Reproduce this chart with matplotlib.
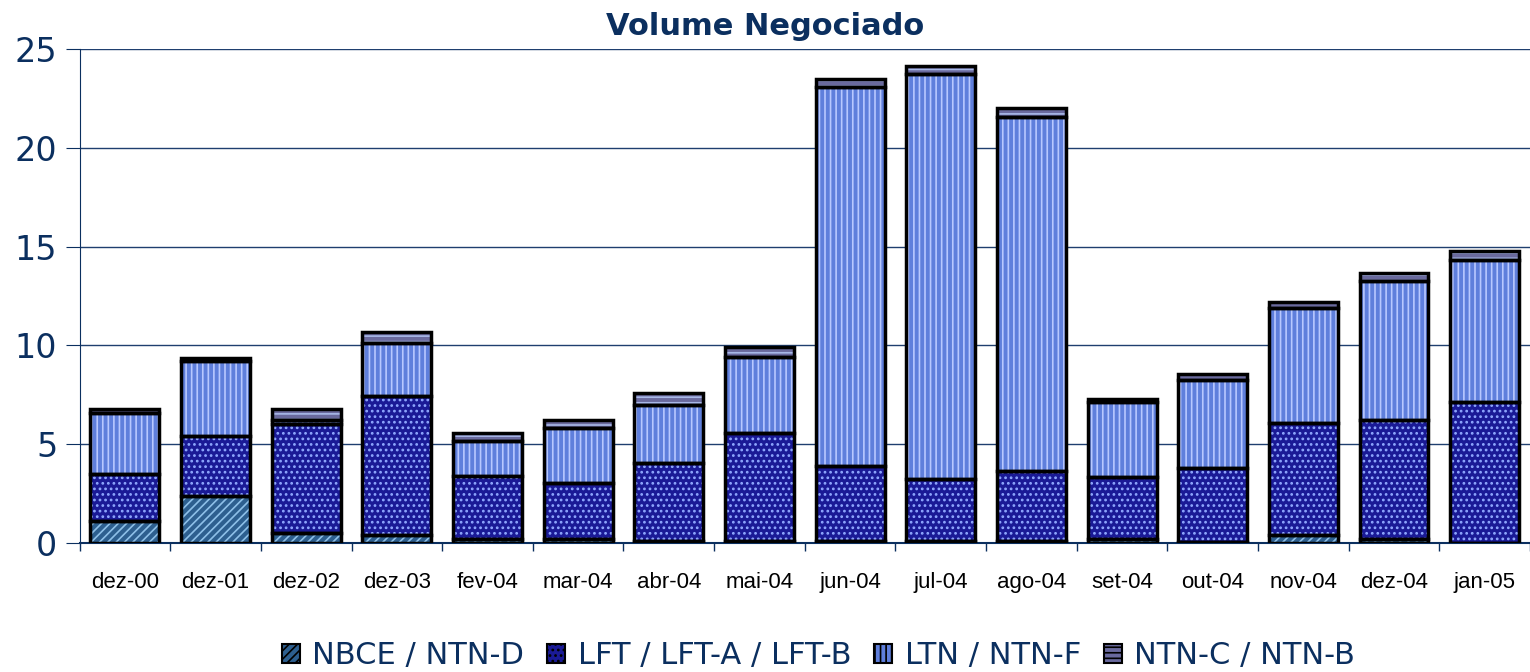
import numpy as np
import matplotlib
matplotlib.use('Agg')
from matplotlib import pyplot as plt

months = ['dez-00', 'dez-01', 'dez-02', 'dez-03', 'fev-04', 'mar-04', 'abr-04', 'mai-04',
          'jun-04', 'jul-04', 'ago-04', 'set-04', 'out-04', 'nov-04', 'dez-04', 'jan-05']
nbce = [1.1, 2.4, 0.5, 0.4, 0.2, 0.2, 0.1, 0.1, 0.1, 0.1, 0.1, 0.2, 0.05, 0.4, 0.2, 0.0]
lft = [2.4, 3.0, 5.5, 7.05, 3.2, 2.85, 3.95, 5.45, 3.8, 3.15, 3.55, 3.15, 3.75, 5.65, 6.0, 7.15]
ltn = [3.1, 3.8, 0.2, 2.65, 1.75, 2.75, 2.95, 3.85, 19.2, 20.5, 17.9, 3.8, 4.45, 5.85, 7.05, 7.15]
ntnc = [0.2, 0.15, 0.6, 0.6, 0.4, 0.4, 0.6, 0.5, 0.4, 0.4, 0.45, 0.15, 0.3, 0.3, 0.4, 0.5]

series_names = ['NBCE / NTN-D', 'LFT / LFT-A / LFT-B', 'LTN / NTN-F', 'NTN-C / NTN-B']
fills = ['#2d5f8f', '#1a1a96', '#5f7fdc', '#6a6a9e']
hatch_cols = ['#8ec0e8', '#8fa8ff', '#b8c8ff', '#a8b8e8']
hatches = ['////', '...', '|||', '---']

navy = '#0b2f5f'
plt.rcParams['hatch.linewidth'] = 1.2

fig = plt.figure(figsize=(15.3, 6.72), dpi=100)
ax = fig.add_axes([0.052, 0.192, 0.948, 0.735])

x = np.arange(len(months))
w = 0.76
bottom = np.zeros(len(months))
handles = []
for vals, name, fc, hc, h in zip([nbce, lft, ltn, ntnc], series_names, fills, hatch_cols, hatches):
    vals = np.array(vals)
    ax.bar(x, vals, w, bottom=bottom, color=fc, edgecolor=hc, hatch=h, linewidth=0, zorder=3)
    ax.bar(x, vals, w, bottom=bottom, fill=False, edgecolor='black', linewidth=2.5, zorder=4)
    handles.append(plt.Rectangle((0, 0), 1, 1, facecolor=fc, edgecolor='black', hatch=h, linewidth=1.5))
    bottom += vals

ax.set_xlim(-0.5, 15.42)
ax.set_ylim(0, 25)
ax.set_yticks([0, 5, 10, 15, 20, 25])
ax.yaxis.grid(True, color='#1f3f6f', linewidth=1.0, zorder=0)
ax.set_axisbelow(True)

for s in ['top', 'right']:
    ax.spines[s].set_visible(False)
ax.spines['left'].set_color(navy)
ax.spines['bottom'].set_color(navy)
ax.spines['bottom'].set_linewidth(1.5)

ax.set_xticks(x)
ax.set_xticklabels(months, fontsize=16, family='Liberation Sans', color='black')
ax.set_xticks(np.arange(-0.5, 15.6, 1), minor=True)
ax.tick_params(axis='x', which='major', length=0, pad=21)
ax.tick_params(axis='x', which='minor', length=6, color=navy, width=1)
ax.tick_params(axis='y', length=10, color=navy, labelsize=24, labelcolor=navy, pad=6)

fig.text(0.5, 0.961, 'Volume Negociado', fontsize=22, fontweight='bold', color=navy,
         ha='center', va='center')

leg = fig.legend(handles, series_names, loc='center', bbox_to_anchor=(0.535, 0.024), ncol=4,
                 frameon=False, handlelength=0.6, handleheight=0.6, handletextpad=0.4,
                 columnspacing=0.75, prop={'family': 'DejaVu Sans', 'size': 22})
for t in leg.get_texts():
    t.set_color(navy)

fig.savefig('out.png', dpi=100)
